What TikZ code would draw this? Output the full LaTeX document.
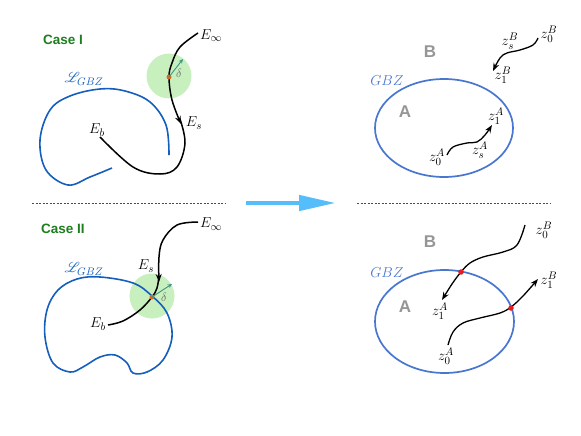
\documentclass[tikz,border=0pt]{standalone}
\usepackage{fontspec}
\usepackage{mathrsfs}
\newfontfamily\labsans{Liberation Sans}
\usetikzlibrary{arrows.meta,shapes.geometric}
\definecolor{gbzblue}{RGB}{20,95,190}
\definecolor{ellblue}{RGB}{72,118,208}
\definecolor{circgreen}{RGB}{200,240,190}
\definecolor{casegreen}{RGB}{30,125,30}
\definecolor{deltateal}{RGB}{60,150,135}
\definecolor{dotorange}{RGB}{210,105,40}
\definecolor{dotred}{RGB}{230,30,30}
\definecolor{arrowblue}{RGB}{85,190,250}
\definecolor{labgray}{RGB}{150,150,150}
\tikzset{
  blackpath/.style={line width=1.5pt, black},
  blackarrow/.style={line width=1.5pt, black, -{Stealth[length=8pt,width=6pt]}},
  gbzcurve/.style={line width=1.6pt, gbzblue},
  ellcurve/.style={line width=1.7pt, ellblue},
  greendisc/.style={circle, fill=circgreen, minimum size=45pt, inner sep=0pt},
  deltaarrow/.style={line width=0.9pt, deltateal, -{Stealth[length=4.5pt,width=4pt]}},
  odot/.style={circle, fill=dotorange, minimum size=5pt, inner sep=0pt},
  rdot/.style={circle, fill=dotred, minimum size=5.5pt, inner sep=0pt},
  mlab/.style={font=\fontsize{15}{17}\selectfont, inner sep=0pt},
  zlab/.style={font=\fontsize{15}{17}\selectfont, inner sep=0pt},
  dlab/.style={font=\fontsize{13}{15}\selectfont, text=black!60, inner sep=0pt},
  caselab/.style={font=\labsans\bfseries\fontsize{13.5}{15}\selectfont, text=casegreen, inner sep=0pt},
  ablab/.style={font=\labsans\bfseries\fontsize{17}{19}\selectfont, text=labgray, inner sep=0pt},
  dashline/.style={line width=0.5pt, black!70, dash pattern=on 2pt off 1.5pt},
}
\begin{document}
\begin{tikzpicture}[x=1pt,y=-1pt]
\useasboundingbox (0,0) rectangle (581,436);

% ---------------- Case I ----------------
\node[caselab] (case1) at (63,40) {Case I};
\node[greendisc] (disc1) at (169,76) {};
\draw[gbzcurve] plot[smooth, tension=0.6] coordinates {(169,155) (166,125) (150,102) (125,91) (100,89) (70,96) (50,110) (40,140) (46,170) (68,185) (90,177) (112,168)};
\node[text=gbzblue, mlab] (lgbz1) at (84,79) {$\mathscr{L}_{GBZ}$};
\coordinate (einf1) at (198,33);
\coordinate (es1pt) at (181,124);
\coordinate (eb1) at (100,137);
\draw[blackarrow] plot[smooth, tension=0.6] coordinates {(einf1) (180,47) (172,63) (169,77) (172,100) (es1pt)};
\draw[blackpath] plot[smooth, tension=0.6] coordinates {(180,119) (185,143) (177,167) (160,174) (133,167) (eb1)};
\node[odot] (dot1) at (169,77) {};
\coordinate (dtip1) at (183,59);
\draw[deltaarrow] (dot1.center) -- (dtip1);
\node[dlab] (delta1) at (179,73) {$\delta$};
\node[mlab, anchor=west] (Einf1) at (200,36) {$E_\infty$};
\node[mlab] (Es1) at (194,123) {$E_s$};
\node[mlab] (Eb1) at (97,130) {$E_b$};

% ---------------- Case II ----------------
\node[caselab] (case2) at (63,229) {Case II};
\node[greendisc] (disc2) at (152,296) {};
\draw[gbzcurve] plot[smooth cycle, tension=0.6] coordinates {(100,277) (133,283) (152,296) (167,313) (172,337) (163,360) (147,372) (133,373) (127,363) (115,355) (100,357) (83,367) (70,372) (53,363) (45,337) (47,310) (58,290) (77,279)};
\node[text=gbzblue, mlab] (lgbz2) at (84,269) {$\mathscr{L}_{GBZ}$};
\coordinate (einf2) at (198,222);
\coordinate (es2pt) at (159,282);
\coordinate (eb2) at (108,325);
\draw[blackarrow] plot[smooth, tension=0.6] coordinates {(einf2) (177,225) (163,240) (159,257) (es2pt)};
\draw[blackpath] plot[smooth, tension=0.6] coordinates {(159,276) (157,288) (152,297) (140,310) (123,321) (eb2)};
\node[odot] (dot2) at (152,297) {};
\coordinate (dtip2) at (172,284);
\draw[deltaarrow] (dot2.center) -- (dtip2);
\node[dlab] (delta2) at (164,297) {$\delta$};
\node[mlab, anchor=west] (Einf2) at (200,224) {$E_\infty$};
\node[mlab] (Es2) at (146,266) {$E_s$};
\node[mlab] (Eb2) at (98,324) {$E_b$};

% ---------------- separators and arrow ----------------
\coordinate (dl1) at (32,203);
\coordinate (dl2) at (225,203);
\coordinate (dr1) at (357,203);
\coordinate (dr2) at (550,203);
\draw[dashline] (dl1) -- (dl2);
\draw[dashline] (dr1) -- (dr2);
\coordinate (ma1) at (246,203);
\coordinate (ma2) at (336,203);
\draw[arrowblue, line width=4.5pt, -{Triangle[length=37pt,width=15pt]}] (ma1) -- (ma2);

% ---------------- right top ----------------
\node[ablab] (B1) at (430,52) {B};
\node[ablab] (A1) at (405,112) {A};
\node[ellcurve, draw, ellipse, minimum width=138pt, minimum height=98pt, inner sep=0pt] (ell1) at (444,128) {};
\node[mlab, text=ellblue] (gbz1) at (387,81) {$GBZ$};
\coordinate (zA0s) at (447,155);
\coordinate (zA1t) at (492,125);
\draw[blackarrow, line width=1.3pt] plot[smooth, tension=0.6] coordinates {(zA0s) (453,147) (467,143) (477,142) (485,135) (zA1t)};
\node[zlab] (z0A) at (437,157) {$z_0^A$};
\node[zlab] (z1A) at (496,116) {$z_1^A$};
\node[zlab] (zsA) at (480,150) {$z_s^A$};
\coordinate (zB0s) at (538,38);
\coordinate (zB1t) at (493,71);
\draw[blackarrow, line width=1.3pt] plot[smooth, tension=0.6] coordinates {(zB0s) (533,45) (520,50) (507,53) (500,58) (zB1t)};
\node[zlab] (z0B) at (549,34) {$z_0^B$};
\node[zlab] (zsB) at (510,41) {$z_s^B$};
\node[zlab] (z1B) at (503,75) {$z_1^B$};

% ---------------- right bottom ----------------
\node[ablab] (B2) at (430,242) {B};
\node[ablab] (A2) at (405,307) {A};
\node[ellcurve, draw, ellipse, minimum width=139pt, minimum height=103pt, inner sep=0pt] (ell2) at (444.5,321.5) {};
\node[mlab, text=ellblue] (gbz2) at (387,273) {$GBZ$};
\coordinate (c1s) at (525,225);
\coordinate (c1t) at (442,300);
\draw[blackarrow, line width=1.3pt] plot[smooth, tension=0.6] coordinates {(c1s) (517,245) (503,252) (483,257) (470,263) (461,272) (452,284) (c1t)};
\coordinate (c2s) at (448,345);
\coordinate (c2t) at (538,279);
\draw[blackarrow, line width=1.3pt] plot[smooth, tension=0.6] coordinates {(c2s) (453,332) (463,323) (480,318) (500,313) (511,307) (523,296) (c2t)};
\node[rdot] (rd1) at (461,272) {};
\node[rdot] (rd2) at (511,308) {};
\node[zlab] (z0B2) at (544,230) {$z_0^B$};
\node[zlab] (z1A2) at (440,311) {$z_1^A$};
\node[zlab] (z0A2) at (446,356) {$z_0^A$};
\node[zlab] (z1B2) at (549,280) {$z_1^B$};
\end{tikzpicture}
\end{document}
